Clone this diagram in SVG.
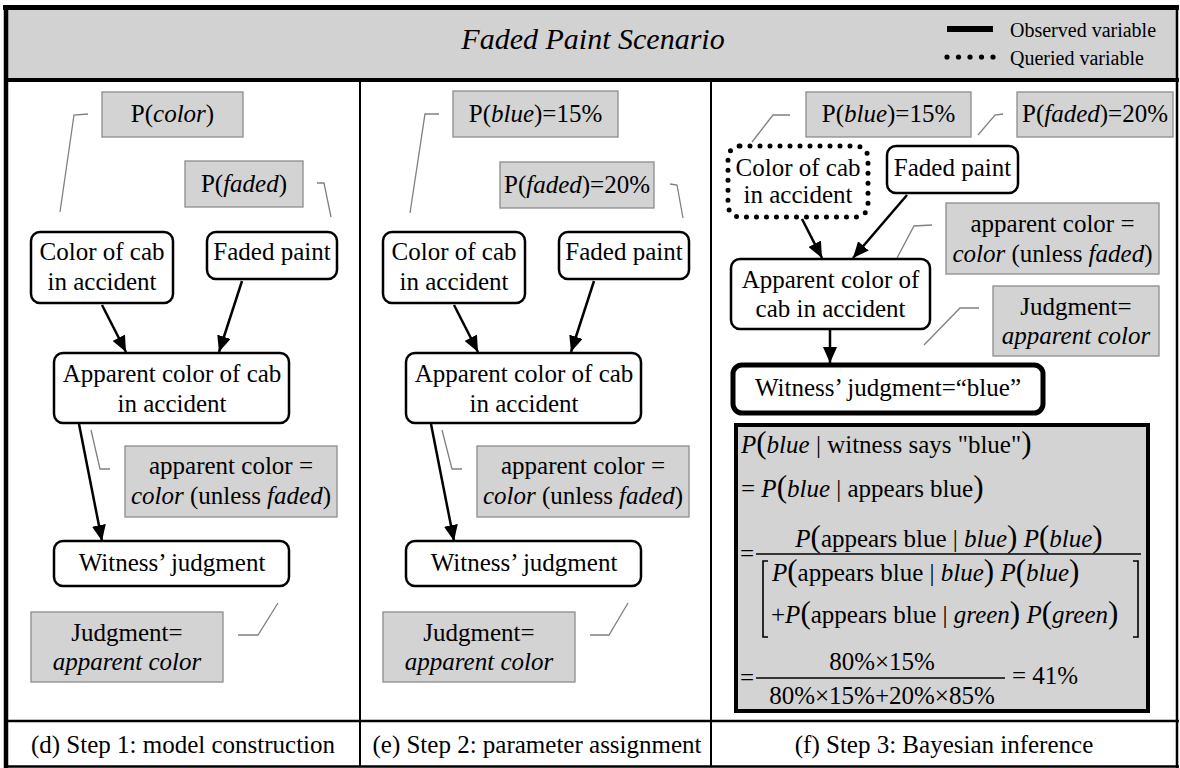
<svg xmlns="http://www.w3.org/2000/svg" width="1180" height="768" viewBox="0 0 1180 768" font-family="'Liberation Serif', 'DejaVu Serif', serif">
  <defs>
    <style>
      text { font-family: 'Liberation Serif', 'DejaVu Serif', serif; font-size: 25px; fill: #000; }
      .c { text-anchor: middle; }
      .i { font-style: italic; }
      .node { fill: #fff; stroke: #000; stroke-width: 2.5; }
      .param { fill: #d3d3d3; stroke: #8c8c8c; stroke-width: 1.3; }
      .lead { fill: none; stroke: #808080; stroke-width: 1.3; }
      .edge { fill: none; stroke: #000; stroke-width: 2.5; marker-end: url(#arrow); }
      .frame { stroke: #000; fill: none; }
      .par { font-size: 31px; }
      .legend { font-size: 20px; }
    </style>
    <marker id="arrow" markerUnits="userSpaceOnUse" markerWidth="16" markerHeight="14" refX="16" refY="7" orient="auto">
      <path d="M0,0 L16,7 L0,14 z" fill="#000"/>
    </marker>
  </defs>

  <rect width="1180" height="768" fill="#fff"/>

  <!-- header band -->
  <rect x="6" y="8" width="1171" height="72" fill="#d2d2d2"/>
  <text class="c i" x="593" y="49" style="font-size:30px">Faded Paint Scenario</text>

  <!-- legend -->
  <g id="legend">
    <line x1="947" y1="29" x2="993" y2="29" stroke="#000" stroke-width="6"/>
    <g fill="#000">
      <circle cx="947" cy="57" r="2.6"/>
      <circle cx="958.5" cy="57" r="2.6"/>
      <circle cx="970" cy="57" r="2.6"/>
      <circle cx="981.5" cy="57" r="2.6"/>
      <circle cx="993" cy="57" r="2.6"/>
    </g>
    <text class="legend" x="1010" y="37">Observed variable</text>
    <text class="legend" x="1010" y="65">Queried variable</text>
  </g>

  <!-- frame and panel rules -->
  <g id="frame" class="frame">
    <line x1="3" y1="7.5" x2="1179" y2="7.5" stroke-width="5"/>
    <line x1="6" y1="5" x2="6" y2="768" stroke-width="4.5"/>
    <line x1="1177" y1="5" x2="1177" y2="768" stroke-width="2.5"/>
    <line x1="4" y1="766.5" x2="1179" y2="766.5" stroke-width="2.5"/>
    <line x1="4" y1="80" x2="1179" y2="80" stroke-width="4"/>
    <line x1="360" y1="80" x2="360" y2="767" stroke-width="2"/>
    <line x1="711" y1="80" x2="711" y2="767" stroke-width="2"/>
    <line x1="4" y1="721" x2="1179" y2="721" stroke-width="2.5"/>
  </g>

  <!-- captions -->
  <text class="c" x="183" y="753">(d) Step 1: model construction</text>
  <text class="c" x="537" y="753">(e) Step 2: parameter assignment</text>
  <text class="c" x="944" y="753">(f) Step 3: Bayesian inference</text>

  <!-- connectors -->
  <g id="connectors">
    <!-- panel d -->
    <line class="edge" x1="102" y1="305" x2="126" y2="352"/>
    <line class="edge" x1="242" y1="281" x2="219" y2="352"/>
    <line class="edge" x1="79" y1="424" x2="102" y2="541"/>
    <!-- panel e -->
    <line class="edge" x1="454" y1="305" x2="478" y2="352"/>
    <line class="edge" x1="594" y1="281" x2="571" y2="352"/>
    <line class="edge" x1="431" y1="424" x2="454" y2="541"/>
    <!-- panel f -->
    <line class="edge" x1="802" y1="219" x2="822" y2="258"/>
    <line class="edge" x1="907" y1="195" x2="853" y2="258"/>
    <line class="edge" x1="830" y1="330" x2="830" y2="363"/>
    <!-- annotation leaders -->
    <polyline class="lead" points="88,114 74,115 60,212"/>
    <polyline class="lead" points="317,183 324,183 331,217"/>
    <polyline class="lead" points="110,469 100,469 91,430"/>
    <polyline class="lead" points="238,635 258,635 278,603"/>
    <polyline class="lead" points="439,114 425,114 410,213"/>
    <polyline class="lead" points="670,184 677,185 683,218"/>
    <polyline class="lead" points="462,469 452,469 442,430"/>
    <polyline class="lead" points="590,635 609,635 628,603"/>
    <polyline class="lead" points="790,115 773,115 752,142"/>
    <polyline class="lead" points="1003,114 995,115 978,135"/>
    <polyline class="lead" points="932,225 914,226 897,258"/>
    <polyline class="lead" points="979,308 960,308 924,345"/>
  </g>

  <!-- ===== panel d: model construction ===== -->
  <g id="d-p-color">
    <rect class="param" x="102" y="92" width="141" height="45"/>
    <text class="c" x="172.5" y="122">P(<tspan class="i">color</tspan>)</text>
  </g>
  <g id="d-p-faded">
    <rect class="param" x="185" y="161" width="118" height="46"/>
    <text class="c" x="244" y="192">P(<tspan class="i">faded</tspan>)</text>
  </g>
  <g id="d-color">
    <rect class="node" x="31" y="232" width="142" height="71" rx="9"/>
    <text class="c" x="102" y="260">Color of cab</text>
    <text class="c" x="102" y="290">in accident</text>
  </g>
  <g id="d-faded">
    <rect class="node" x="207" y="232" width="130" height="47" rx="9"/>
    <text class="c" x="272" y="260">Faded paint</text>
  </g>
  <g id="d-apparent">
    <rect class="node" x="54" y="353" width="235" height="70" rx="9"/>
    <text class="c" x="172" y="382">Apparent color of cab</text>
    <text class="c" x="172" y="412">in accident</text>
  </g>
  <g id="d-apparent-rule">
    <rect class="param" x="125" y="446" width="212" height="71"/>
    <text class="c" x="231" y="474">apparent color =</text>
    <text class="c" x="231" y="504"><tspan class="i">color</tspan> (unless <tspan class="i">faded</tspan>)</text>
  </g>
  <g id="d-witness">
    <rect class="node" x="54" y="541" width="235" height="45" rx="9"/>
    <text class="c" x="172" y="571">Witness’ judgment</text>
  </g>
  <g id="d-judgment-rule">
    <rect class="param" x="31" y="612" width="192" height="70"/>
    <text class="c" x="127" y="641">Judgment=</text>
    <text class="c i" x="127" y="670">apparent color</text>
  </g>

  <!-- ===== panel e: parameter assignment ===== -->
  <g id="e-p-blue">
    <rect class="param" x="453" y="91" width="165" height="46"/>
    <text class="c" x="535.5" y="122">P(<tspan class="i">blue</tspan>)=15%</text>
  </g>
  <g id="e-p-faded">
    <rect class="param" x="500" y="162" width="154" height="46"/>
    <text class="c" x="577" y="193">P(<tspan class="i">faded</tspan>)=20%</text>
  </g>
  <g id="e-color">
    <rect class="node" x="383" y="232" width="142" height="71" rx="9"/>
    <text class="c" x="454" y="260">Color of cab</text>
    <text class="c" x="454" y="290">in accident</text>
  </g>
  <g id="e-faded">
    <rect class="node" x="559" y="232" width="130" height="47" rx="9"/>
    <text class="c" x="624" y="260">Faded paint</text>
  </g>
  <g id="e-apparent">
    <rect class="node" x="406" y="353" width="235" height="70" rx="9"/>
    <text class="c" x="524" y="382">Apparent color of cab</text>
    <text class="c" x="524" y="412">in accident</text>
  </g>
  <g id="e-apparent-rule">
    <rect class="param" x="477" y="446" width="212" height="71"/>
    <text class="c" x="583" y="474">apparent color =</text>
    <text class="c" x="583" y="504"><tspan class="i">color</tspan> (unless <tspan class="i">faded</tspan>)</text>
  </g>
  <g id="e-witness">
    <rect class="node" x="406" y="541" width="235" height="45" rx="9"/>
    <text class="c" x="524" y="571">Witness’ judgment</text>
  </g>
  <g id="e-judgment-rule">
    <rect class="param" x="383" y="612" width="192" height="70"/>
    <text class="c" x="479" y="641">Judgment=</text>
    <text class="c i" x="479" y="670">apparent color</text>
  </g>

  <!-- ===== panel f: Bayesian inference ===== -->
  <g id="f-p-blue">
    <rect class="param" x="806" y="92" width="165" height="45"/>
    <text class="c" x="888.5" y="122">P(<tspan class="i">blue</tspan>)=15%</text>
  </g>
  <g id="f-p-faded">
    <rect class="param" x="1017" y="92" width="156" height="45"/>
    <text class="c" x="1095" y="122">P(<tspan class="i">faded</tspan>)=20%</text>
  </g>
  <g id="f-color">
    <rect x="728" y="146" width="140" height="71" rx="12" fill="#fff" stroke="#000" stroke-width="5" stroke-dasharray="0 10" stroke-linecap="round"/>
    <text class="c" x="798" y="176">Color of cab</text>
    <text class="c" x="798" y="203">in accident</text>
  </g>
  <g id="f-faded">
    <rect class="node" x="887" y="146" width="131" height="47" rx="9"/>
    <text class="c" x="952.5" y="176">Faded paint</text>
  </g>
  <g id="f-apparent-rule">
    <rect class="param" x="946" y="203" width="213" height="71"/>
    <text class="c" x="1052.5" y="232">apparent color =</text>
    <text class="c" x="1052.5" y="262"><tspan class="i">color</tspan> (unless <tspan class="i">faded</tspan>)</text>
  </g>
  <g id="f-apparent">
    <rect class="node" x="731" y="259" width="199" height="70" rx="9"/>
    <text class="c" x="830.5" y="288">Apparent color of</text>
    <text class="c" x="830.5" y="317">cab in accident</text>
  </g>
  <g id="f-judgment-rule">
    <rect class="param" x="993" y="286" width="166" height="70"/>
    <text class="c" x="1076" y="315">Judgment=</text>
    <text class="c i" x="1076" y="344">apparent color</text>
  </g>
  <g id="f-witness">
    <rect x="733" y="365" width="310" height="48" rx="9" fill="#fff" stroke="#000" stroke-width="5"/>
    <text class="c" x="888" y="396">Witness’ judgment=“blue”</text>
  </g>

  <!-- Bayes computation -->
  <g id="f-formula">
    <rect x="736" y="425" width="412" height="286" fill="#d3d3d3" stroke="#000" stroke-width="4"/>
    <text x="741" y="453"><tspan class="i">P</tspan><tspan class="par">(</tspan><tspan class="i">blue</tspan> | witness says "blue"<tspan class="par">)</tspan></text>
    <text x="741" y="497">= <tspan class="i">P</tspan><tspan class="par">(</tspan><tspan class="i">blue</tspan> | appears blue<tspan class="par">)</tspan></text>
    <text class="c" x="949" y="547"><tspan class="i">P</tspan><tspan class="par">(</tspan>appears blue | <tspan class="i">blue</tspan><tspan class="par">)</tspan> <tspan class="i">P</tspan><tspan class="par">(</tspan><tspan class="i">blue</tspan><tspan class="par">)</tspan></text>
    <text x="740" y="562">=</text>
    <line x1="756" y1="554" x2="1141" y2="554" stroke="#000" stroke-width="1.6"/>
    <path d="M768,561 H763 V637 H768 M1133,561 H1138 V637 H1133" fill="none" stroke="#000" stroke-width="1.6"/>
    <text x="772" y="581"><tspan class="i">P</tspan><tspan class="par">(</tspan>appears blue | <tspan class="i">blue</tspan><tspan class="par">)</tspan> <tspan class="i">P</tspan><tspan class="par">(</tspan><tspan class="i">blue</tspan><tspan class="par">)</tspan></text>
    <text x="771" y="623">+<tspan class="i">P</tspan><tspan class="par">(</tspan>appears blue | <tspan class="i">green</tspan><tspan class="par">)</tspan> <tspan class="i">P</tspan><tspan class="par">(</tspan><tspan class="i">green</tspan><tspan class="par">)</tspan></text>
    <text class="c" x="882" y="670">80%×15%</text>
    <line x1="756" y1="678" x2="1005" y2="678" stroke="#000" stroke-width="1.6"/>
    <text x="740" y="686">=</text>
    <text class="c" x="882" y="704">80%×15%+20%×85%</text>
    <text x="1012" y="684">= 41%</text>
  </g>
</svg>
